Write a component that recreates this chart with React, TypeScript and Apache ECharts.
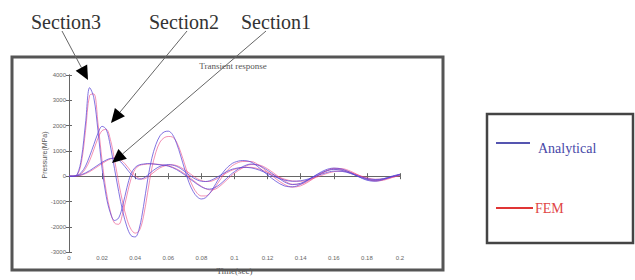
import React, { useEffect, useRef } from "react";
import * as echarts from "echarts";

const time = [
  0, 0.0025, 0.005, 0.0075, 0.01, 0.0125, 0.015, 0.0175, 0.02, 0.0225,
  0.025, 0.0275, 0.03, 0.0325, 0.035, 0.0375, 0.04, 0.0425, 0.045, 0.0475,
  0.05, 0.0525, 0.055, 0.0575, 0.06, 0.0625, 0.065, 0.0675, 0.07, 0.0725,
  0.075, 0.0775, 0.08, 0.0825, 0.085, 0.0875, 0.09, 0.0925, 0.095, 0.0975,
  0.1, 0.105, 0.11, 0.115, 0.12, 0.125, 0.13, 0.135, 0.14, 0.145,
  0.15, 0.155, 0.16, 0.165, 0.17, 0.175, 0.18, 0.185, 0.19, 0.195, 0.2,
];

const section3Analytical = [
  0, 0, 80, 700, 2100, 3500, 3100, 1800, 300, -800,
  -1450, -1750, -1650, -1150, -450, 100, 350, 450, 480, 500,
  490, 470, 450, 430, 400, 340, 260, 160, 50, -80,
  -200, -320, -420, -490, -510, -470, -380, -250, -100, 50,
  180, 380, 480, 420, 230, 0, -220, -330, -280, -120,
  60, 200, 270, 230, 120, -20, -130, -160, -100, 0, 80,
];
const section3FEM = [
  0, 0, 50, 550, 1800, 3200, 3250, 2100, 600, -600,
  -1400, -1850, -1900, -1450, -750, -100, 280, 420, 460, 480,
  490, 480, 460, 440, 410, 360, 290, 200, 90, -30,
  -160, -290, -400, -490, -540, -530, -450, -320, -170, -20,
  120, 330, 460, 440, 290, 60, -170, -320, -310, -170,
  20, 180, 280, 260, 160, 20, -100, -170, -130, -30, 60,
];
const section2Analytical = [
  0, 0, 30, 150, 400, 800, 1250, 1700, 1970, 1850,
  1200, 300, -600, -1400, -2000, -2350, -2400, -2050, -1200, -150,
  700, 1250, 1600, 1750, 1780, 1650, 1300, 800, 250, -250,
  -600, -820, -900, -850, -680, -430, -150, 100, 300, 450,
  550, 620, 560, 330, 50, -200, -380, -420, -320, -130,
  80, 250, 320, 280, 150, -20, -160, -200, -130, -20, 70,
];
const section2FEM = [
  0, 0, 20, 100, 300, 620, 1050, 1500, 1800, 1850,
  1450, 650, -250, -1050, -1700, -2100, -2250, -2150, -1600, -650,
  300, 950, 1350, 1520, 1570, 1550, 1350, 950, 450, -50,
  -430, -680, -780, -780, -680, -500, -270, -30, 180, 350,
  470, 580, 580, 420, 160, -100, -320, -430, -380, -210,
  10, 200, 310, 300, 200, 40, -110, -190, -160, -60, 40,
];
const section1Analytical = [
  0, 0, 20, 60, 130, 220, 330, 440, 550, 640,
  700, 710, 640, 480, 280, 80, -60, -120, -80, 40,
  180, 300, 390, 440, 460, 440, 390, 300, 180, 50,
  -60, -150, -200, -210, -180, -110, -20, 80, 170, 250,
  300, 350, 330, 240, 100, -40, -150, -200, -180, -100,
  20, 130, 200, 190, 110, 0, -90, -130, -100, -20, 60,
];
const section1FEM = [
  0, 0, 10, 40, 100, 180, 280, 390, 500, 600,
  680, 720, 700, 580, 400, 190, 20, -90, -110, -40,
  90, 220, 330, 400, 440, 450, 420, 350, 250, 130,
  10, -100, -170, -210, -210, -160, -80, 20, 120, 210,
  270, 340, 350, 280, 150, 10, -110, -190, -200, -140,
  -30, 90, 180, 200, 140, 40, -60, -120, -110, -50, 30,
];

const sectionLabels = ["Section3", "Section2", "Section1"];
const legendNames = ["Analytical", "FEM"];
const chartTitle = "Transient response";
const xTitle = "Time(sec)";
const yTitle = "Pressure(MPa)";

const BLUE = "rgba(90,70,215,0.75)";
const RED = "rgba(235,70,130,0.6)";

function arrow(sx: number, sy: number, tx: number, ty: number) {
  const dx = tx - sx;
  const dy = ty - sy;
  const len = Math.sqrt(dx * dx + dy * dy);
  const ux = dx / len;
  const uy = dy / len;
  const L = 14;
  const W = 6.5;
  const bx = tx - ux * L;
  const by = ty - uy * L;
  return [
    {
      type: "line",
      z: 100,
      shape: { x1: sx, y1: sy, x2: bx, y2: by },
      style: { stroke: "#666", lineWidth: 1 },
    },
    {
      type: "polygon",
      z: 100,
      shape: {
        points: [
          [tx, ty],
          [bx - uy * W, by + ux * W],
          [bx + uy * W, by - ux * W],
        ],
      },
      style: { fill: "#000" },
    },
  ];
}

export default function App() {
  const ref = useRef<HTMLDivElement>(null);
  useEffect(() => {
    if (!ref.current) return;
    const chart = echarts.init(ref.current, undefined, { renderer: "svg" });
    const mk = (name: string, vals: number[], color: string) => ({
      name,
      type: "line",
      data: time.map((t, i) => [t, vals[i]]),
      showSymbol: false,
      smooth: 0.35,
      lineStyle: { color, width: 1 },
      itemStyle: { color },
      z: 3,
    });
    const axisCommon = {
      axisLine: { show: true, lineStyle: { color: "#666", width: 1 } },
      axisTick: { show: true, inside: true, length: 3, lineStyle: { color: "#666" } },
      splitLine: { show: false },
    };
    const fmtX = (v: number) => String(Number(v.toFixed(2)));
    const fmtY = (v: number) => String(v);
    chart.setOption({
      animation: false,
      backgroundColor: "#fff",
      grid: { left: 69, right: 235, top: 75, bottom: 27 },
      xAxis: [
        {
          type: "value",
          min: 0,
          max: 0.2,
          interval: 0.02,
          position: "bottom",
          ...axisCommon,
          axisLabel: { fontSize: 6, color: "#666", margin: 3, formatter: fmtX },
          name: xTitle,
          nameLocation: "middle",
          nameGap: 8,
          nameTextStyle: { fontSize: 9, color: "#555", fontFamily: "Liberation Serif" },
        },
        {
          type: "value",
          min: 0,
          max: 0.2,
          interval: 0.02,
          position: "top",
          ...axisCommon,
          axisLabel: { show: false },
        },
      ],
      yAxis: [
        {
          type: "value",
          min: -3000,
          max: 4000,
          interval: 1000,
          position: "left",
          ...axisCommon,
          axisLabel: { fontSize: 6, color: "#666", margin: 3, formatter: fmtY },
        },
        {
          type: "value",
          min: -3000,
          max: 4000,
          interval: 1000,
          position: "right",
          ...axisCommon,
          axisLabel: { show: false },
        },
      ],
      series: [
        mk(legendNames[1], section1FEM, RED),
        mk(legendNames[1], section2FEM, RED),
        mk(legendNames[1], section3FEM, RED),
        mk(legendNames[0], section1Analytical, BLUE),
        mk(legendNames[0], section2Analytical, BLUE),
        mk(legendNames[0], section3Analytical, BLUE),
      ],
      graphic: [
        {
          type: "rect",
          z: 50,
          shape: { x: 12, y: 57, width: 431, height: 213 },
          style: { fill: "none", stroke: "#555", lineWidth: 3 },
        },
        {
          type: "rect",
          z: 50,
          shape: { x: 487, y: 114, width: 146, height: 129 },
          style: { fill: "none", stroke: "#444", lineWidth: 2.5 },
        },
        {
          type: "text",
          z: 60,
          x: 233,
          y: 66,
          style: {
            text: chartTitle,
            fontSize: 9,
            fill: "#555",
            fontFamily: "Liberation Serif",
            align: "center",
            verticalAlign: "middle",
          },
        },
        {
          type: "text",
          z: 60,
          x: 44,
          y: 155,
          rotation: Math.PI / 2,
          style: {
            text: yTitle,
            fontSize: 7,
            fill: "#555",
            fontFamily: "Liberation Sans",
            align: "center",
            verticalAlign: "middle",
          },
        },
        {
          type: "text",
          z: 60,
          x: 66,
          y: 22,
          style: { text: sectionLabels[0], fontSize: 20, fill: "#333", fontFamily: "Liberation Serif", align: "center", verticalAlign: "middle" },
        },
        {
          type: "text",
          z: 60,
          x: 184,
          y: 22,
          style: { text: sectionLabels[1], fontSize: 20, fill: "#333", fontFamily: "Liberation Serif", align: "center", verticalAlign: "middle" },
        },
        {
          type: "text",
          z: 60,
          x: 276,
          y: 22,
          style: { text: sectionLabels[2], fontSize: 20, fill: "#333", fontFamily: "Liberation Serif", align: "center", verticalAlign: "middle" },
        },
        ...arrow(62, 31, 88, 80),
        ...arrow(187, 31, 111, 123),
        ...arrow(266, 31, 112, 163),
        {
          type: "line",
          z: 60,
          shape: { x1: 496, y1: 143, x2: 530, y2: 143 },
          style: { stroke: "#5555b0", lineWidth: 2 },
        },
        {
          type: "text",
          z: 60,
          x: 538,
          y: 148,
          style: { text: legendNames[0], fontSize: 14, fill: "#4848a8", fontFamily: "Liberation Serif", verticalAlign: "middle" },
        },
        {
          type: "line",
          z: 60,
          shape: { x1: 496, y1: 208, x2: 533, y2: 208 },
          style: { stroke: "#e03535", lineWidth: 2 },
        },
        {
          type: "text",
          z: 60,
          x: 535,
          y: 208,
          style: { text: legendNames[1], fontSize: 14, fill: "#e04545", fontFamily: "Liberation Serif", verticalAlign: "middle" },
        },
      ],
    });
    return () => chart.dispose();
  }, []);
  return (
    <div
      ref={ref}
      style={{ position: "fixed", left: 0, top: 0, width: 635, height: 280, background: "#fff" }}
    />
  );
}
